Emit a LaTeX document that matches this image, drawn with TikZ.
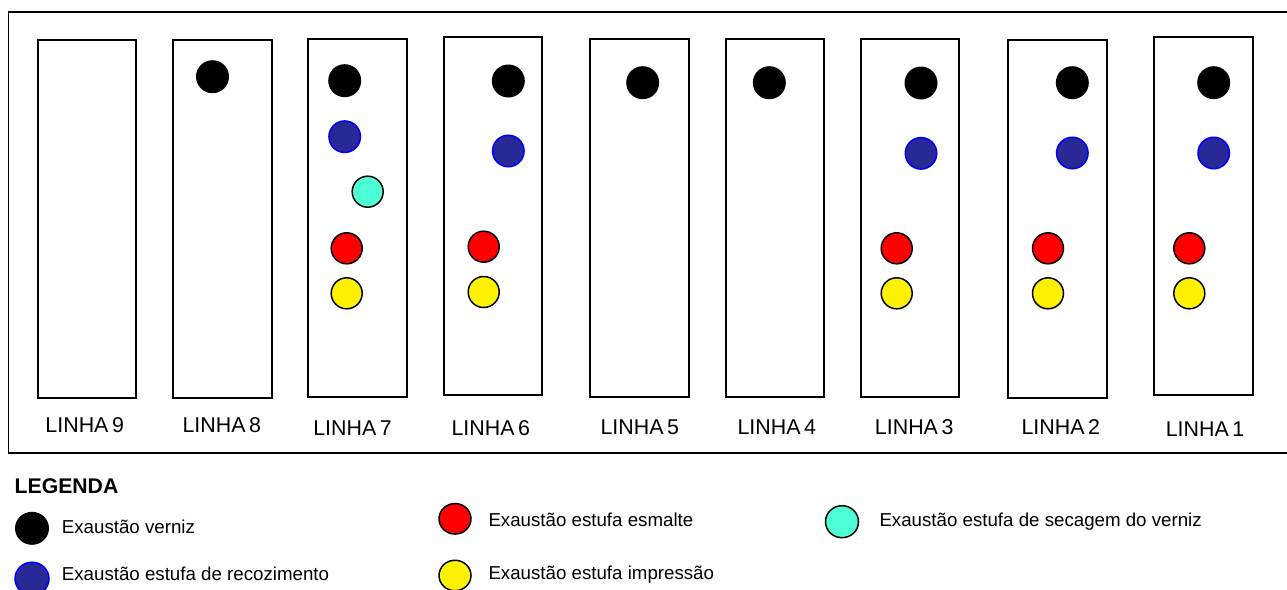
\documentclass[tikz,border=0pt]{standalone}
\usepackage{fontspec}
\setmainfont{Liberation Sans}
\definecolor{navyfill}{RGB}{40,40,150}
\definecolor{cyanfill}{RGB}{77,255,212}
\definecolor{edgeblue}{RGB}{0,0,255}
\tikzset{
  linebox/.style={draw=black, line width=2pt, minimum width=98.5pt, minimum height=358pt, inner sep=0pt, anchor=north west},
  linelabel/.style={font=\fontsize{21.4}{24}\selectfont, inner sep=0pt},
  dotblack/.style={circle, fill=black, minimum size=33pt, inner sep=0pt},
  dotblue/.style={circle, fill=navyfill, draw=edgeblue, line width=1.5pt, minimum size=31.5pt, inner sep=0pt},
  dotcyan/.style={circle, fill=cyanfill, draw=black, line width=1.5pt, minimum size=31pt, inner sep=0pt},
  dotred/.style={circle, fill=red, draw=black, line width=1.5pt, minimum size=31pt, inner sep=0pt},
  dotyellow/.style={circle, fill=yellow, draw=black, line width=1.5pt, minimum size=31pt, inner sep=0pt},
  legtext/.style={font=\fontsize{18.7}{22}\selectfont, anchor=west, inner sep=0pt},
  legdot/.style={ellipse, minimum width=34pt, minimum height=33pt, inner sep=0pt},
}
\usetikzlibrary{shapes.geometric}
\begin{document}
\begin{tikzpicture}[x=1pt, y=-1pt]
\useasboundingbox (0,0) rectangle (1287,589);
% outer frame
\draw[line width=1.5pt] (1290,12) -- (8.5,12) -- (8.5,453) -- (1290,453);
% line boxes
\node[linebox] (b9) at (36.7,38.7) {};
\node[linebox] (b8) at (172,38.7) {};
\node[linebox] (b7) at (307.3,38) {};
\node[linebox] (b6) at (442.7,35.7) {};
\node[linebox] (b5) at (589.3,37.7) {};
\node[linebox] (b4) at (724.7,37.7) {};
\node[linebox] (b3) at (859.7,37.7) {};
\node[linebox] (b2) at (1007,38.7) {};
\node[linebox] (b1) at (1153.3,35.7) {};
% labels
\node[linelabel] (l9) at (84.7,425) {LINHA\,9};
\node[linelabel] (l8) at (221.8,425) {LINHA\,8};
\node[linelabel] (l7) at (352.5,428) {LINHA\,7};
\node[linelabel] (l6) at (490.8,428) {LINHA\,6};
\node[linelabel] (l5) at (639.8,427) {LINHA\,5};
\node[linelabel] (l4) at (776.8,427) {LINHA\,4};
\node[linelabel] (l3) at (914.2,427) {LINHA\,3};
\node[linelabel] (l2) at (1060.8,427) {LINHA\,2};
\node[linelabel] (l1) at (1205,429) {LINHA\,1};
% line 8
\node[dotblack] (k8) at (212.5,76.7) {};
% line 7
\node[dotblack] (k7) at (344.7,80.7) {};
\node[dotblue] (u7) at (344.7,136.7) {};
\node[dotcyan] (c7) at (367.7,191.7) {};
\node[dotred] (r7) at (346.7,248.3) {};
\node[dotyellow] (y7) at (346.7,293.3) {};
% line 6
\node[dotblack] (k6) at (508.3,81) {};
\node[dotblue] (u6) at (508.3,151) {};
\node[dotred] (r6) at (483.7,246.7) {};
\node[dotyellow] (y6) at (483.7,292) {};
% line 5, 4
\node[dotblack] (k5) at (642.7,82.7) {};
\node[dotblack] (k4) at (769.3,82.7) {};
% line 3
\node[dotblack] (k3) at (921,83) {};
\node[dotblue] (u3) at (921,153.3) {};
\node[dotred] (r3) at (896.7,248.3) {};
\node[dotyellow] (y3) at (896.7,293.3) {};
% line 2
\node[dotblack] (k2) at (1072.3,82.7) {};
\node[dotblue] (u2) at (1072.3,153) {};
\node[dotred] (r2) at (1048,248.3) {};
\node[dotyellow] (y2) at (1048,293.3) {};
% line 1
\node[dotblack] (k1) at (1213.7,82.7) {};
\node[dotblue] (u1) at (1213.7,153) {};
\node[dotred] (r1) at (1189.3,248.3) {};
\node[dotyellow] (y1) at (1189.3,293.3) {};
% legend
\node[font=\bfseries\fontsize{21.2}{24}\selectfont, anchor=west, inner sep=0pt] (leg) at (14.5,486) {LEGENDA};
\node[legdot, fill=black] (lk) at (32,528.3) {};
\node[legtext] (tk) at (61.7,527) {Exaustão verniz};
\node[legdot, fill=navyfill, draw=edgeblue, line width=1.5pt] (lu) at (32,578.7) {};
\node[legtext] (tu) at (61.7,573.5) {Exaustão estufa de recozimento};
\node[legdot, minimum width=32pt, minimum height=30.5pt, fill=red, draw=black, line width=1.5pt] (lr) at (455,518.8) {};
\node[legtext] (tr) at (488.3,520) {Exaustão estufa esmalte};
\node[legdot, minimum width=32pt, minimum height=30.5pt, fill=yellow, draw=black, line width=1.5pt] (ly) at (455,575.5) {};
\node[legtext] (ty) at (488.3,575) {Exaustão estufa impressão};
\node[legdot, minimum width=33pt, minimum height=32pt, fill=cyanfill, draw=black, line width=1.5pt] (lc) at (842,521.7) {};
\node[legtext] (tc) at (879.3,521.5) {Exaustão estufa de secagem do verniz};
\end{tikzpicture}
\end{document}
